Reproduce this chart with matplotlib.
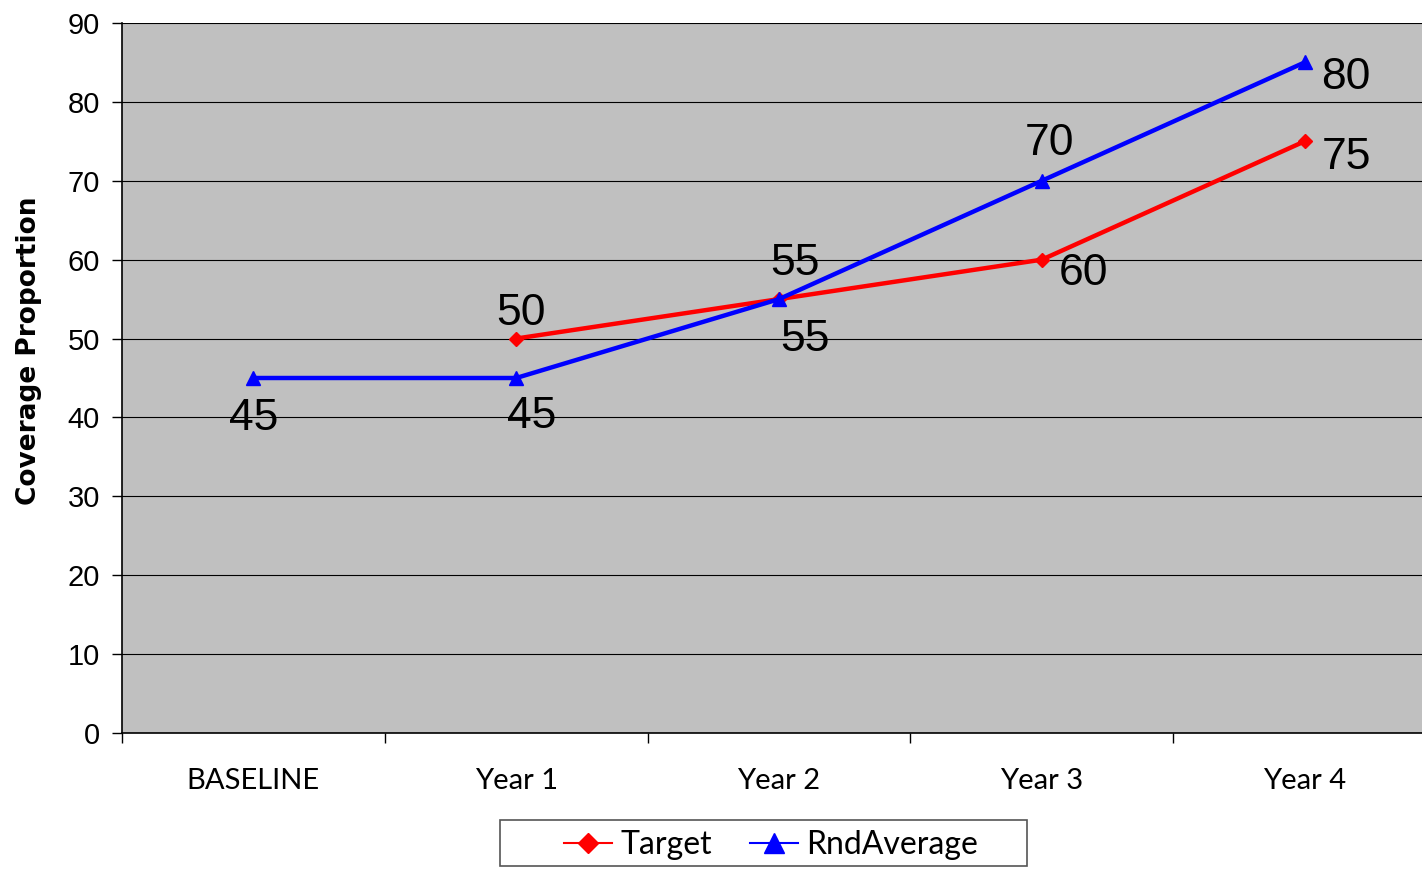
import numpy as np
import matplotlib.pyplot as plt
from matplotlib.patches import Rectangle

plt.rcParams['font.family'] = ['Liberation Sans', 'DejaVu Sans']

categories = ['BASELINE', 'Year 1', 'Year 2', 'Year 3', 'Year 4']
target_x = [1, 2, 3, 4]
target = [50, 55, 60, 75]
target_labels = ['50', '55', '60', '75']
rnd_x = [0, 1, 2, 3, 4]
rnd_avg = [45, 45, 55, 70, 85]
rnd_labels = ['45', '45', '55', '70', '80']

fig = plt.figure(figsize=(14.22, 8.69), dpi=100)
ax = fig.add_axes([122 / 1422, 136 / 869, 1314 / 1422, 710 / 869])
ax.set_facecolor('#c0c0c0')

ax.set_xlim(-0.5, 4.5)
ax.set_ylim(0, 90)
ax.set_yticks(np.arange(0, 91, 10))
ax.grid(axis='y', color='black', linewidth=0.8)
ax.set_axisbelow(True)

for s in ['top', 'right']:
    ax.spines[s].set_visible(False)
ax.spines['left'].set_linewidth(1.2)
ax.spines['bottom'].set_linewidth(1.2)

ax.plot(target_x, target, color='#ff0000', linewidth=3.2, marker='D', markersize=7,
        label='Target', zorder=3)
ax.plot(rnd_x, rnd_avg, color='#0000ff', linewidth=3.2, marker='^', markersize=10,
        label='RndAverage', zorder=4)

# data labels, offsets in points like the original
t_off = [(3.6, 18), (18.7, -29), (30, -10), (30, -11.5)]
for x, y, s, (dx, dy) in zip(target_x, target, target_labels, t_off):
    ax.annotate(s, (x, y), xytext=(dx, dy), textcoords='offset points',
                ha='center', va='center', fontsize=32)
r_off = [(0, -29), (10.8, -27.5), (11.5, 25.5), (5.8, 27), (30, -11)]
for x, y, s, (dx, dy) in zip(rnd_x, rnd_avg, rnd_labels, r_off):
    ax.annotate(s, (x, y), xytext=(dx, dy), textcoords='offset points',
                ha='center', va='center', fontsize=32)

ax.set_xticks(range(5))
ax.set_xticklabels(categories, family=['Lato', 'DejaVu Sans'], fontsize=21)
ax.set_xticks(np.arange(-0.5, 5, 1), minor=True)
ax.tick_params(axis='x', which='major', length=0, pad=25)
ax.tick_params(axis='x', which='minor', length=7, width=1, direction='out')
ax.tick_params(axis='y', length=7, width=1, labelsize=21, pad=9)

ax.set_ylabel('Coverage Proportion', fontsize=19, fontweight='bold',
              family=['DejaVu Sans'])
ax.yaxis.set_label_coords(-0.061, 0.538)

leg = fig.legend(loc='center', bbox_to_anchor=(771 / 1422, 1 - 845 / 869), ncol=2,
                 frameon=False, prop={'family': 'Lato', 'size': 23},
                 handlelength=1.5, handletextpad=0.25, columnspacing=1.2)
for h in leg.legend_handles:
    h.set_linewidth(1.5)
    h.set_markersize(h.get_markersize() * 1.5)
fig.add_artist(Rectangle((500 / 1422, 1 - 866 / 869), 527 / 1422, 46 / 869,
                         transform=fig.transFigure, fill=False,
                         edgecolor='#555555', linewidth=1.2))

fig.savefig('out.png', dpi=100)
